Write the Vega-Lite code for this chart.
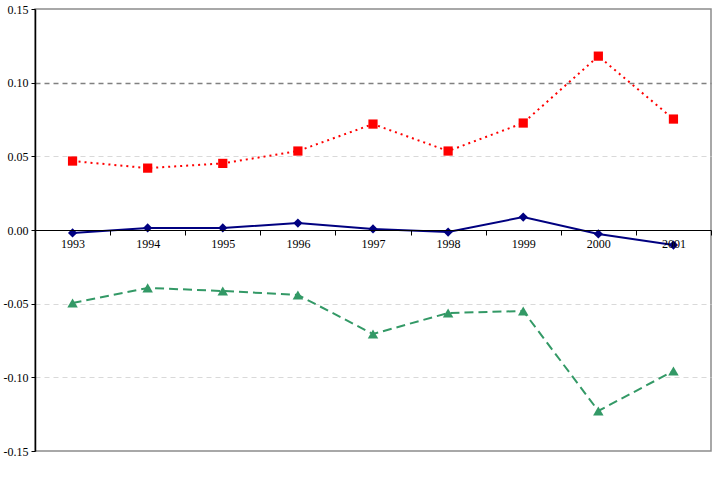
{
  "$schema": "https://vega.github.io/schema/vega-lite/v6.json",
  "width": 676,
  "height": 442,
  "autosize": "none",
  "padding": {"left": 35, "top": 9, "right": 3, "bottom": 27},
  "background": "white",
  "config": {
    "view": {"stroke": "#8c8c8c", "strokeWidth": 1.5},
    "font": "Liberation Serif"
  },
  "datasets": {
    "series": [
      {"year": "1993", "series": "A", "value": 0.0468},
      {"year": "1994", "series": "A", "value": 0.0420},
      {"year": "1995", "series": "A", "value": 0.0452},
      {"year": "1996", "series": "A", "value": 0.0536},
      {"year": "1997", "series": "A", "value": 0.0719},
      {"year": "1998", "series": "A", "value": 0.0536},
      {"year": "1999", "series": "A", "value": 0.0726},
      {"year": "2000", "series": "A", "value": 0.1180},
      {"year": "2001", "series": "A", "value": 0.0753},
      {"year": "1993", "series": "B", "value": -0.0020},
      {"year": "1994", "series": "B", "value": 0.0014},
      {"year": "1995", "series": "B", "value": 0.0014},
      {"year": "1996", "series": "B", "value": 0.0047},
      {"year": "1997", "series": "B", "value": 0.0007},
      {"year": "1998", "series": "B", "value": -0.0014},
      {"year": "1999", "series": "B", "value": 0.0088},
      {"year": "2000", "series": "B", "value": -0.0027},
      {"year": "2001", "series": "B", "value": -0.0102},
      {"year": "1993", "series": "C", "value": -0.0495},
      {"year": "1994", "series": "C", "value": -0.0393},
      {"year": "1995", "series": "C", "value": -0.0414},
      {"year": "1996", "series": "C", "value": -0.0441},
      {"year": "1997", "series": "C", "value": -0.0706},
      {"year": "1998", "series": "C", "value": -0.0563},
      {"year": "1999", "series": "C", "value": -0.0550},
      {"year": "2000", "series": "C", "value": -0.1228},
      {"year": "2001", "series": "C", "value": -0.0957}
    ]
  },
  "data": {"name": "series"},
  "encoding": {
    "x": {
      "field": "year",
      "type": "ordinal",
      "scale": {"paddingInner": 0, "paddingOuter": 0},
      "axis": {
        "title": null,
        "orient": "bottom",
        "offset": -221,
        "labelAngle": 0,
        "labelFont": "Liberation Serif",
        "labelFontSize": 12,
        "labelColor": "#000",
        "labelPadding": 3,
        "tickBand": "extent",
        "tickColor": "#000",
        "tickSize": 5,
        "domainColor": "#000",
        "domainWidth": 1.2,
        "grid": false,
        "zindex": 1
      }
    },
    "y": {
      "field": "value",
      "type": "quantitative",
      "scale": {"domain": [-0.15, 0.15], "nice": false, "zero": false},
      "axis": {
        "title": null,
        "values": [-0.15, -0.1, -0.05, 0, 0.05, 0.1, 0.15],
        "labelExpr": "replace(format(datum.value, '.2f'), '\u2212', '-')",
        "labelFont": "Liberation Serif",
        "labelFontSize": 12,
        "labelColor": "#000",
        "labelPadding": 3,
        "tickColor": "#000",
        "tickSize": 4,
        "domainColor": "#000",
        "domainWidth": 1.5,
        "grid": true,
        "gridColor": {"condition": {"test": "abs(datum.value - 0.1) < 0.001", "value": "#808080"}, "value": "#d9d9d9"},
        "gridWidth": {"condition": {"test": "abs(datum.value - 0.1) < 0.001", "value": 1.5}, "value": 1},
        "gridOpacity": {"condition": {"test": "abs(datum.value) > 0.14", "value": 0}, "value": 1},
        "gridDash": [5, 4]
      }
    }
  },
  "layer": [
    {
      "transform": [{"filter": "datum.series === 'A'"}],
      "mark": {"type": "line", "color": "#ff0000", "strokeWidth": 2, "strokeDash": [2, 4]},
      "encoding": {}
    },
    {
      "transform": [{"filter": "datum.series === 'A'"}],
      "mark": {"type": "point", "shape": "square", "filled": true, "color": "#ff0000", "size": 85, "opacity": 1}
    },
    {
      "transform": [{"filter": "datum.series === 'B'"}],
      "mark": {"type": "line", "color": "#000080", "strokeWidth": 2},
      "encoding": {}
    },
    {
      "transform": [{"filter": "datum.series === 'B'"}],
      "mark": {"type": "point", "shape": "diamond", "filled": true, "color": "#000080", "size": 85, "opacity": 1}
    },
    {
      "transform": [{"filter": "datum.series === 'C'"}],
      "mark": {"type": "line", "color": "#339966", "strokeWidth": 2, "strokeDash": [9, 5]},
      "encoding": {}
    },
    {
      "transform": [{"filter": "datum.series === 'C'"}],
      "mark": {"type": "point", "shape": "triangle-up", "filled": true, "color": "#339966", "size": 110, "opacity": 1}
    }
  ]
}
